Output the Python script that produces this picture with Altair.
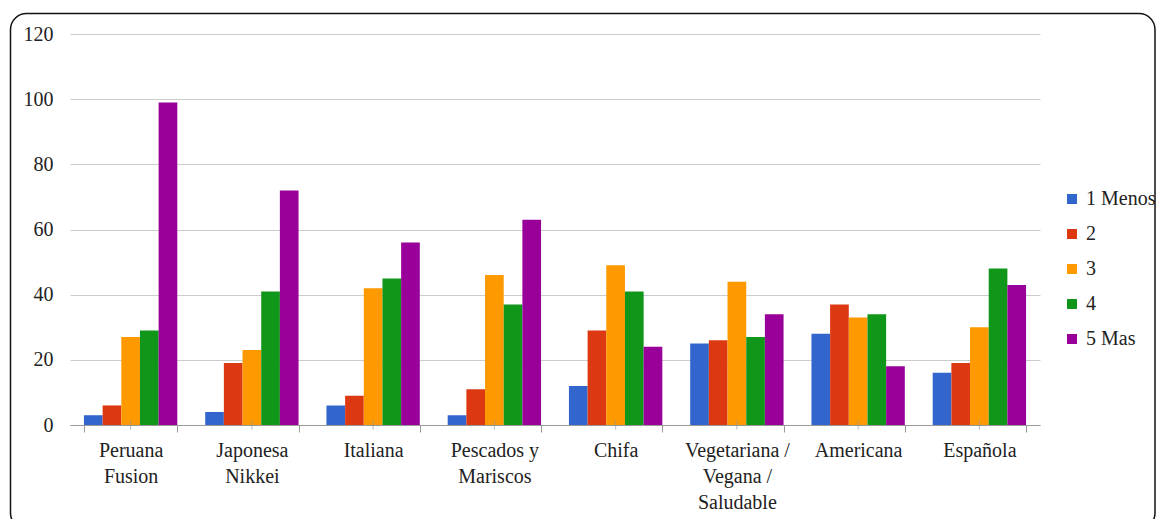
import altair as alt
import pandas as pd

categories = ["Peruana|Fusion", "Japonesa|Nikkei", "Italiana", "Pescados y|Mariscos",
              "Chifa", "Vegetariana /|Vegana /|Saludable", "Americana", "Española"]
series = ["1 Menos", "2", "3", "4", "5 Mas"]
colors = ["#3366CC", "#DC3912", "#FF9900", "#109618", "#990099"]

s1_menos = [3, 4, 6, 3, 12, 25, 28, 16]
s2 = [6, 19, 9, 11, 29, 26, 37, 19]
s3 = [27, 23, 42, 46, 49, 44, 33, 30]
s4 = [29, 41, 45, 37, 41, 27, 34, 48]
s5_mas = [99, 72, 56, 63, 24, 34, 18, 43]

y_ticks = [0, 20, 40, 60, 80, 100, 120]

rows = []
for name, vals in zip(series, [s1_menos, s2, s3, s4, s5_mas]):
    for c, v in zip(categories, vals):
        rows.append({"cat": c, "serie": name, "valor": v})
df = pd.DataFrame(rows)

FONT = "Liberation Serif, Times New Roman, serif"

x_scale = alt.Scale(domain=categories, paddingInner=0.23, paddingOuter=0.115)

bars = alt.Chart(df).mark_bar().encode(
    x=alt.X("cat:N", sort=categories, title=None, scale=x_scale,
            axis=alt.Axis(labelExpr="split(datum.label, '|')", labelAngle=0,
                          labelFont=FONT, labelFontSize=20, labelColor="#222222",
                          labelLineHeight=26, labelPadding=8,
                          tickBand="extent", tickSize=7, tickColor="#999999",
                          domainColor="#999999", grid=False)),
    xOffset=alt.XOffset("serie:N", sort=series),
    y=alt.Y("valor:Q", title=None,
            scale=alt.Scale(domain=[0, 120], nice=False),
            axis=alt.Axis(values=y_ticks, labelFont=FONT, labelFontSize=20,
                          labelColor="#222222", ticks=False, domain=False,
                          labelPadding=17, gridColor="#cccccc", gridWidth=1)),
    color=alt.Color("serie:N", sort=series,
                    scale=alt.Scale(domain=series, range=colors),
                    legend=alt.Legend(title=None, orient="none", legendX=992, legendY=155,
                                      labelFont=FONT, labelFontSize=20, labelColor="#222222",
                                      symbolType="square", symbolSize=100, symbolStrokeWidth=0,
                                      labelOffset=4, rowPadding=15, padding=0)),
)

center_ticks = alt.Chart(pd.DataFrame({"cat": categories})).mark_tick(
    color="#999999", thickness=1, size=9, orient="vertical"
).encode(
    x=alt.X("cat:N", sort=categories, scale=x_scale),
    y=alt.value(391),
)

frame = alt.Chart(pd.DataFrame({"a": [0]})).mark_rect(
    fill=None, stroke="#111111", strokeWidth=1.5, cornerRadius=16
).encode(
    x=alt.value(-59.5), x2=alt.value(1085),
    y=alt.value(-20.5), y2=alt.value(495),
)

chart = alt.layer(frame, bars, center_ticks).properties(
    width=970, height=391,
    autosize=alt.AutoSizeParams(type="none"),
    padding={"left": 70, "top": 34, "right": 119, "bottom": 94},
    background="white",
).configure_view(stroke=None)

chart.save("out.html", embed_options={"renderer": "svg", "actions": False})
